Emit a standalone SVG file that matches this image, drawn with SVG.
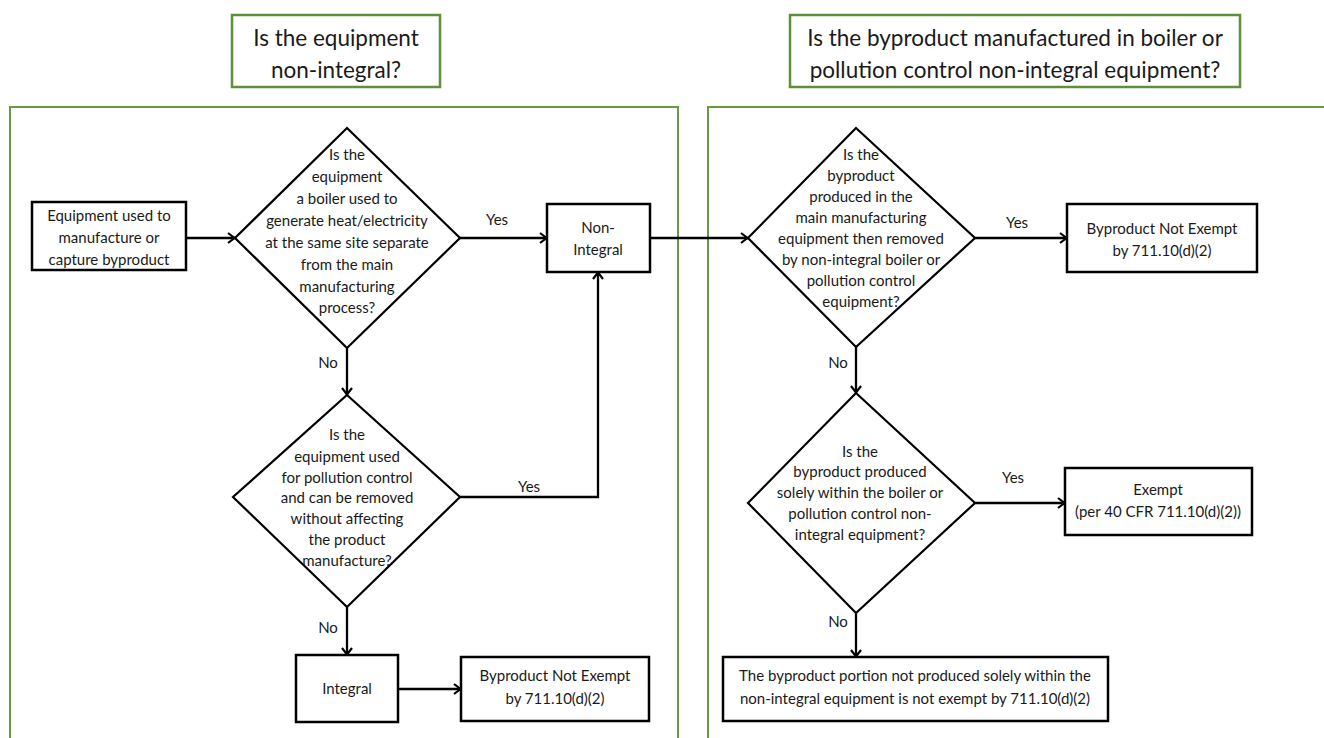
<svg xmlns="http://www.w3.org/2000/svg" width="1324" height="738" viewBox="0 0 1324 738">
<style>
.panel{fill:none;stroke:#679A43;stroke-width:2}
.tbox{fill:#fff;stroke:#5E8F3A;stroke-width:2.5}
.box{fill:#fff;stroke:#000;stroke-width:2.5}
.dia{fill:#fff;stroke:#000;stroke-width:2.2}
.t{font-family:Lato,"Liberation Sans",sans-serif;font-size:15px;fill:#1a1a1a;text-anchor:middle}
.tt{font-family:Lato,"Liberation Sans",sans-serif;font-size:22.5px;fill:#1a1a1a;text-anchor:middle}
.lbl{font-family:Lato,"Liberation Sans",sans-serif;font-size:15px;fill:#1a1a1a;text-anchor:middle}
.c{fill:none;stroke:#000;stroke-width:2.3;marker-end:url(#ah)}
</style>
<defs>
<marker id="ah" viewBox="0 0 12 12" refX="10.5" refY="6" markerWidth="12" markerHeight="12" markerUnits="userSpaceOnUse" orient="auto">
<path d="M3.5,1 L10,6 L3.5,11" fill="none" stroke="#000" stroke-width="2.2"/>
</marker>
</defs>
<rect width="1324" height="738" fill="#fff"/>

<g id="panel-left"><rect class="panel" x="10" y="107" width="668" height="660"/></g>
<g id="panel-right"><rect class="panel" x="708" y="107" width="640" height="660"/></g>

<g id="title-left">
<rect class="tbox" x="232" y="15" width="208" height="72"/>
<text class="tt" x="336" y="46">Is the equipment</text>
<text class="tt" x="336" y="78">non-integral?</text>
</g>
<g id="title-right">
<rect class="tbox" x="790" y="15" width="450" height="72"/>
<text class="tt" x="1015" y="46">Is the byproduct manufactured in boiler or</text>
<text class="tt" x="1015" y="78">pollution control non-integral equipment?</text>
</g>

<g id="connectors">
<path class="c" d="M186,238 H235"/>
<path class="c" d="M460,238 H547"/>
<path class="c" d="M650,238 H748"/>
<path class="c" d="M347,348 V395"/>
<path class="c" d="M460,497 H598 V272"/>
<path class="c" d="M347,607 V655"/>
<path class="c" d="M398,689 H461"/>
<path class="c" d="M975,238 H1067"/>
<path class="c" d="M856,347 V393"/>
<path class="c" d="M975,503 H1065"/>
<path class="c" d="M856,613 V657"/>
<text class="lbl" x="497" y="225">Yes</text>
<text class="lbl" x="328" y="368">No</text>
<text class="lbl" x="529" y="492">Yes</text>
<text class="lbl" x="328" y="633">No</text>
<text class="lbl" x="1017" y="228">Yes</text>
<text class="lbl" x="838" y="368">No</text>
<text class="lbl" x="1013" y="483">Yes</text>
<text class="lbl" x="838" y="627">No</text>
</g>

<g id="start">
<rect class="box" x="32" y="202" width="154" height="68"/>
<text class="t" x="109" y="221">Equipment used to</text>
<text class="t" x="109" y="243">manufacture or</text>
<text class="t" x="109" y="265">capture byproduct</text>
</g>

<g id="q-boiler">
<polygon class="dia" points="347,128 460,238 347,348 235,238"/>
<text class="t" x="347" y="160">Is the</text>
<text class="t" x="347" y="182">equipment</text>
<text class="t" x="347" y="204">a boiler used to</text>
<text class="t" x="347" y="226">generate heat/electricity</text>
<text class="t" x="347" y="248">at the same site separate</text>
<text class="t" x="347" y="270">from the main</text>
<text class="t" x="347" y="292">manufacturing</text>
<text class="t" x="347" y="313">process?</text>
</g>

<g id="non-integral">
<rect class="box" x="547" y="204" width="103" height="68"/>
<text class="t" x="598" y="233">Non-</text>
<text class="t" x="598" y="255">Integral</text>
</g>

<g id="q-pollution">
<polygon class="dia" points="347,395 460,497 347,607 233,497"/>
<text class="t" x="347" y="440">Is the</text>
<text class="t" x="347" y="462">equipment used</text>
<text class="t" x="347" y="483">for pollution control</text>
<text class="t" x="347" y="503">and can be removed</text>
<text class="t" x="347" y="524">without affecting</text>
<text class="t" x="347" y="545">the product</text>
<text class="t" x="347" y="566">manufacture?</text>
</g>

<g id="integral">
<rect class="box" x="296" y="655" width="102" height="67"/>
<text class="t" x="347" y="694">Integral</text>
</g>

<g id="not-exempt-left">
<rect class="box" x="461" y="657" width="188" height="64"/>
<text class="t" x="555" y="681">Byproduct Not Exempt</text>
<text class="t" x="555" y="704">by 711.10(d)(2)</text>
</g>

<g id="q-main-equipment">
<polygon class="dia" points="856,128 975,238 856,347 748,238"/>
<text class="t" x="861" y="160">Is the</text>
<text class="t" x="861" y="181">byproduct</text>
<text class="t" x="861" y="202">produced in the</text>
<text class="t" x="861" y="223">main manufacturing</text>
<text class="t" x="861" y="244">equipment then removed</text>
<text class="t" x="861" y="265">by non-integral boiler or</text>
<text class="t" x="861" y="286">pollution control</text>
<text class="t" x="861" y="307">equipment?</text>
</g>

<g id="not-exempt-right">
<rect class="box" x="1067" y="204" width="190" height="68"/>
<text class="t" x="1162" y="234">Byproduct Not Exempt</text>
<text class="t" x="1162" y="256">by 711.10(d)(2)</text>
</g>

<g id="q-solely">
<polygon class="dia" points="856,393 975,503 856,613 748,503"/>
<text class="t" x="860" y="457">Is the</text>
<text class="t" x="860" y="477">byproduct produced</text>
<text class="t" x="860" y="498">solely within the boiler or</text>
<text class="t" x="860" y="519">pollution control non-</text>
<text class="t" x="860" y="540">integral equipment?</text>
</g>

<g id="exempt">
<rect class="box" x="1065" y="468" width="187" height="67"/>
<text class="t" x="1158" y="495">Exempt</text>
<text class="t" x="1158" y="517">(per 40 CFR 711.10(d)(2))</text>
</g>

<g id="portion-not-exempt">
<rect class="box" x="723" y="657" width="385" height="64"/>
<text class="t" x="915" y="681">The byproduct portion not produced solely within the</text>
<text class="t" x="915" y="704">non-integral equipment is not exempt by 711.10(d)(2)</text>
</g>
</svg>
